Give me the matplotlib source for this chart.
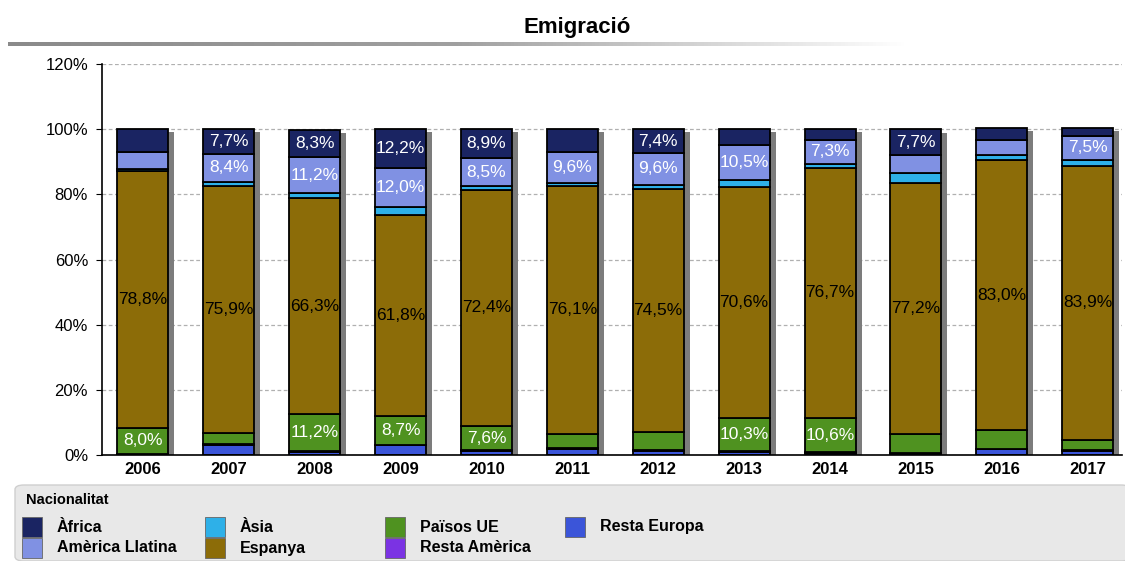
import numpy as np
import matplotlib
matplotlib.use("Agg")
import matplotlib.pyplot as plt
from matplotlib.patches import FancyBboxPatch, Rectangle

plt.rcParams["font.family"] = ["Liberation Sans", "DejaVu Sans"]

years = ["2006", "2007", "2008", "2009", "2010", "2011",
         "2012", "2013", "2014", "2015", "2016", "2017"]

# shares (%) per nationality, stacked bottom -> top
resta_europa = [0.2, 3.2, 1.0, 3.0, 1.2, 1.8, 1.2, 1.0, 0.6, 0.5, 1.7, 1.2]
resta_america = [0.2, 0.2, 0.3, 0.2, 0.2, 0.4, 0.2, 0.2, 0.2, 0.2, 0.2, 0.2]
paisos_ue = [8.0, 3.4, 11.2, 8.7, 7.6, 4.3, 5.8, 10.3, 10.6, 5.6, 5.7, 3.3]
espanya = [78.8, 75.9, 66.3, 61.8, 72.4, 76.1, 74.5, 70.6, 76.7, 77.2, 83.0, 83.9]
asia = [0.5, 1.2, 1.5, 2.3, 1.2, 0.8, 1.3, 2.4, 1.3, 2.9, 1.4, 1.9]
america_llatina = [5.3, 8.4, 11.2, 12.0, 8.5, 9.6, 9.6, 10.5, 7.3, 5.8, 4.7, 7.5]
africa = [7.0, 7.7, 8.3, 12.2, 8.9, 7.0, 7.4, 5.1, 3.4, 7.7, 3.6, 2.4]

series = [
    ("Resta Europa", resta_europa, "#3b55d9", "white"),
    ("Resta Amèrica", resta_america, "#7b33e3", "white"),
    ("Països UE", paisos_ue, "#4f9220", "white"),
    ("Espanya", espanya, "#8c6c08", "black"),
    ("Àsia", asia, "#2eb0e8", "white"),
    ("Amèrica Llatina", america_llatina, "#8091e3", "white"),
    ("Àfrica", africa, "#1a2462", "white"),
]

fig = plt.figure(figsize=(11.25, 5.61), dpi=100)
ax = fig.add_axes([102 / 1125, 106 / 561, 1020 / 1125, 391 / 561])

x = np.arange(len(years))
w = 0.594

# drop shadow behind each bar
totals = np.sum([s[1] for s in series], axis=0)
ax.bar(x + 0.07, totals - 1.0, w, color="#7c7c7c", zorder=1)

bottom = np.zeros(len(years))
for name, vals, color, tcol in series:
    vals = np.array(vals)
    ax.bar(x, vals, w, bottom=bottom, color=color, edgecolor="black",
           linewidth=1.3, zorder=2)
    for i, v in enumerate(vals):
        if v >= 7.2:
            ax.text(x[i], bottom[i] + v / 2, f"{v:.1f}%".replace(".", ","),
                    ha="center", va="center", color=tcol, fontsize=12.5,
                    zorder=3)
    bottom += vals

ax.set_xlim(-0.477, 11.4)
ax.set_ylim(0, 120)
ax.set_yticks(range(0, 121, 20))
ax.set_yticklabels([f"{t}%" for t in range(0, 121, 20)], fontsize=12)
ax.set_xticks(x)
ax.set_xticklabels(years, fontsize=12, fontweight="bold")
ax.tick_params(axis="x", length=0, pad=5)
ax.tick_params(axis="y", length=4, pad=6)
ax.grid(axis="y", linestyle=(0, (3, 2)), color="#b0b0b0", linewidth=0.9, zorder=0)
ax.set_axisbelow(True)
for s in ["top", "right"]:
    ax.spines[s].set_visible(False)
ax.spines["left"].set_linewidth(1.2)
ax.spines["bottom"].set_linewidth(1.2)

# title with fading rule underneath
fig.text(577 / 1125, 1 - 28 / 561, "Emigració", ha="center", va="center",
         fontsize=16, fontweight="bold")
grad = np.linspace(0, 1, 256).reshape(1, -1)
rule_ax = fig.add_axes([8 / 1125, 1 - 46 / 561, 900 / 1125, 4 / 561])
rule_ax.imshow(grad, aspect="auto", cmap=matplotlib.colors.LinearSegmentedColormap.from_list(
    "fade", ["#8a8a8a", "#a0a0a0", "#ffffff"]))
rule_ax.axis("off")

# legend panel
fig.patches.append(FancyBboxPatch((15 / 1125, 0), 1115 / 1125, 76 / 561,
                                  boxstyle="round,pad=0,rounding_size=0.008",
                                  transform=fig.transFigure, facecolor="#e8e8e8",
                                  edgecolor="#cfcfcf", linewidth=1))
fig.text(26 / 1125, 1 - 500 / 561, "Nacionalitat", fontsize=10.5,
         fontweight="bold", va="center")
legend_items = [
    ("Àfrica", "#1a2462", 0, 0), ("Amèrica Llatina", "#8091e3", 0, 1),
    ("Àsia", "#2eb0e8", 1, 0), ("Espanya", "#8c6c08", 1, 1),
    ("Països UE", "#4f9220", 2, 0), ("Resta Amèrica", "#7b33e3", 2, 1),
    ("Resta Europa", "#3b55d9", 3, 0),
]
col_x = [22, 205, 385, 565]
row_y = [527, 548]
for label, color, c, r in legend_items:
    sx = col_x[c]
    sy = row_y[r]
    fig.patches.append(Rectangle((sx / 1125, 1 - (sy + 10) / 561), 20 / 1125, 20 / 561,
                                 transform=fig.transFigure, facecolor=color,
                                 edgecolor="#666666", linewidth=0.6))
    fig.text((sx + 35) / 1125, 1 - sy / 561, label, fontsize=11.5,
             fontweight="bold", va="center")

fig.savefig("out.png", dpi=100)
